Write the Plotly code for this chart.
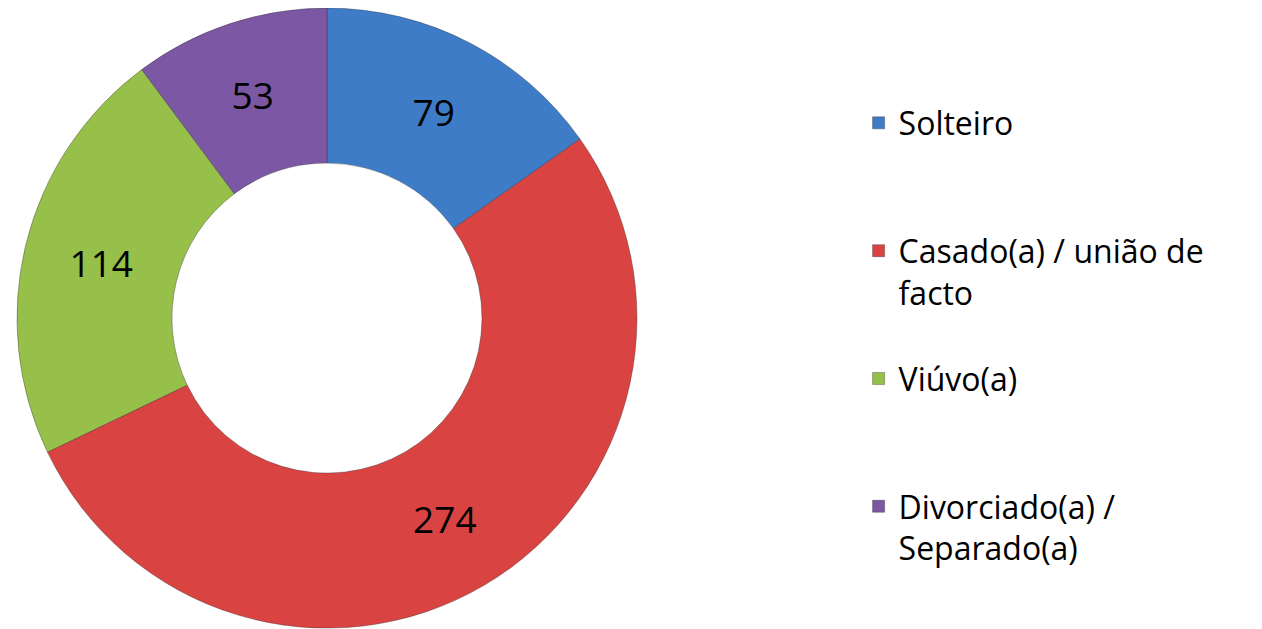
import plotly.graph_objects as go

# padding lines keep each legend symbol on the first text line and the entries evenly spaced
labels = ['\u00a0<br>Solteiro<br>\u00a0', '\u00a0<br>Casado(a) / união de<br>facto',
          '\u00a0<br>Viúvo(a)<br>\u00a0', '\u00a0<br>Divorciado(a) /<br>Separado(a)']
values = [79, 274, 114, 53]
colors = ['#3E7CC8', '#D94442', '#97C04A', '#7C57A4']

fig = go.Figure()
fig.add_trace(go.Pie(labels=labels, values=values, sort=False, direction='clockwise', rotation=0,
                     hole=0.5, marker=dict(colors=colors, line=dict(color='rgba(40,40,40,0.35)', width=1)),
                     textinfo='value', textposition='inside', insidetextorientation='horizontal',
                     textfont=dict(size=37, color='black', family='Open Sans'),
                     domain=dict(x=[0.0071, 0.4984], y=[0.014, 1.0]), hoverinfo='value'))

fig.update_layout(width=1262, height=629, margin=dict(l=0, r=0, t=0, b=0),
                  paper_bgcolor='white', plot_bgcolor='white',
                  font=dict(family='Open Sans', color='black'),
                  legend=dict(x=0.674, y=0.512, xanchor='left', yanchor='middle', font=dict(size=32)))
fig.write_html("out.html")
